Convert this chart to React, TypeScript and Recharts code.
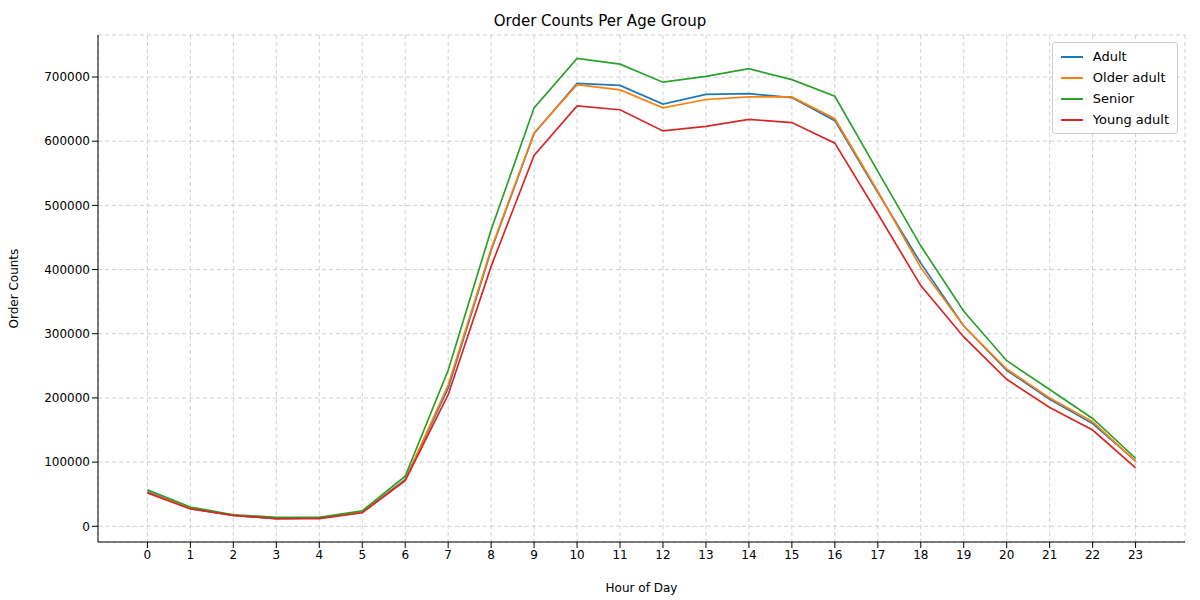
import React from 'react';
import { LineChart, Line, XAxis, YAxis, CartesianGrid } from 'recharts';

const hours = Array.from({ length: 24 }, (_, i) => i);
const adult = [54000,28000,17000,12000,13000,22000,73000,215000,430000,612000,690000,687000,658000,673000,674000,668000,632000,520000,410000,312000,243000,198000,160000,102000];
const olderAdult = [53000,28000,17000,12000,13000,22000,72000,220000,432000,613000,688000,680000,652000,665000,669000,669000,635000,522000,403000,312000,245000,200000,163000,101000];
const senior = [57000,30000,18000,14000,14000,24000,78000,243000,462000,652000,729000,720000,692000,701000,713000,696000,670000,553000,437000,335000,258000,213000,168000,106000];
const youngAdult = [52000,27000,17000,12000,12000,21000,71000,205000,405000,578000,655000,649000,616000,623000,634000,629000,597000,487000,375000,295000,229000,185000,150000,91000];
const yTicks = [0,100000,200000,300000,400000,500000,600000,700000];

const data = hours.map((h, i) => ({ hour: h, adult: adult[i], older: olderAdult[i], senior: senior[i], young: youngAdult[i] }));
const series = [
  { key: 'adult', name: 'Adult', color: '#1f77b4' },
  { key: 'older', name: 'Older adult', color: '#ff7f0e' },
  { key: 'senior', name: 'Senior', color: '#2ca02c' },
  { key: 'young', name: 'Young adult', color: '#d62728' },
];

const font = 'DejaVu Sans';

export default function App() {
  return (
    <div style={{ position: 'absolute', left: 0, top: 0, width: 1200, height: 600, background: '#fff', fontFamily: font }}>
      <div style={{ position: 'absolute', top: 12, width: 1200, textAlign: 'center', fontSize: 15 }}>Order Counts Per Age Group</div>
      <LineChart width={1200} height={600} data={data} margin={{ top: 35, right: 15, bottom: 28, left: 0 }}>
        <CartesianGrid stroke="#d0d0d0" strokeDasharray="4 3" />
        <XAxis dataKey="hour" type="number" domain={[-1.15, 24.15]} ticks={hours} interval={0} height={30}
          tick={{ fill: '#000', fontSize: 12, fontFamily: font }} tickLine={{ stroke: '#000' }} axisLine={{ stroke: '#000' }}
          label={{ value: 'Hour of Day', position: 'insideBottom', offset: -20, fill: '#000', fontSize: 12, fontFamily: font }} />
        <YAxis type="number" domain={[-24500, 765500]} ticks={yTicks} width={98}
          tick={{ fill: '#000', fontSize: 12, fontFamily: font }} tickLine={{ stroke: '#000' }} axisLine={{ stroke: '#000' }}
          label={{ value: 'Order Counts', angle: -90, position: 'insideLeft', offset: 14, dy: 40, fill: '#000', fontSize: 12, fontFamily: font }} />
        {series.map(s => (
          <Line key={s.key} dataKey={s.key} name={s.name} stroke={s.color} strokeWidth={1.7} dot={false} isAnimationActive={false} />
        ))}
      </LineChart>
      <div style={{ position: 'absolute', right: 22, top: 42, border: '1px solid #ccc', borderRadius: 3, background: '#fff', padding: '3px 8px', fontSize: 13, fontFamily: font }}>
        {series.map(s => (
          <div key={s.key} style={{ display: 'flex', alignItems: 'center', height: 21 }}>
            <span style={{ display: 'inline-block', width: 22, height: 2, background: s.color, marginRight: 10 }} />
            {s.name}
          </div>
        ))}
      </div>
    </div>
  );
}
